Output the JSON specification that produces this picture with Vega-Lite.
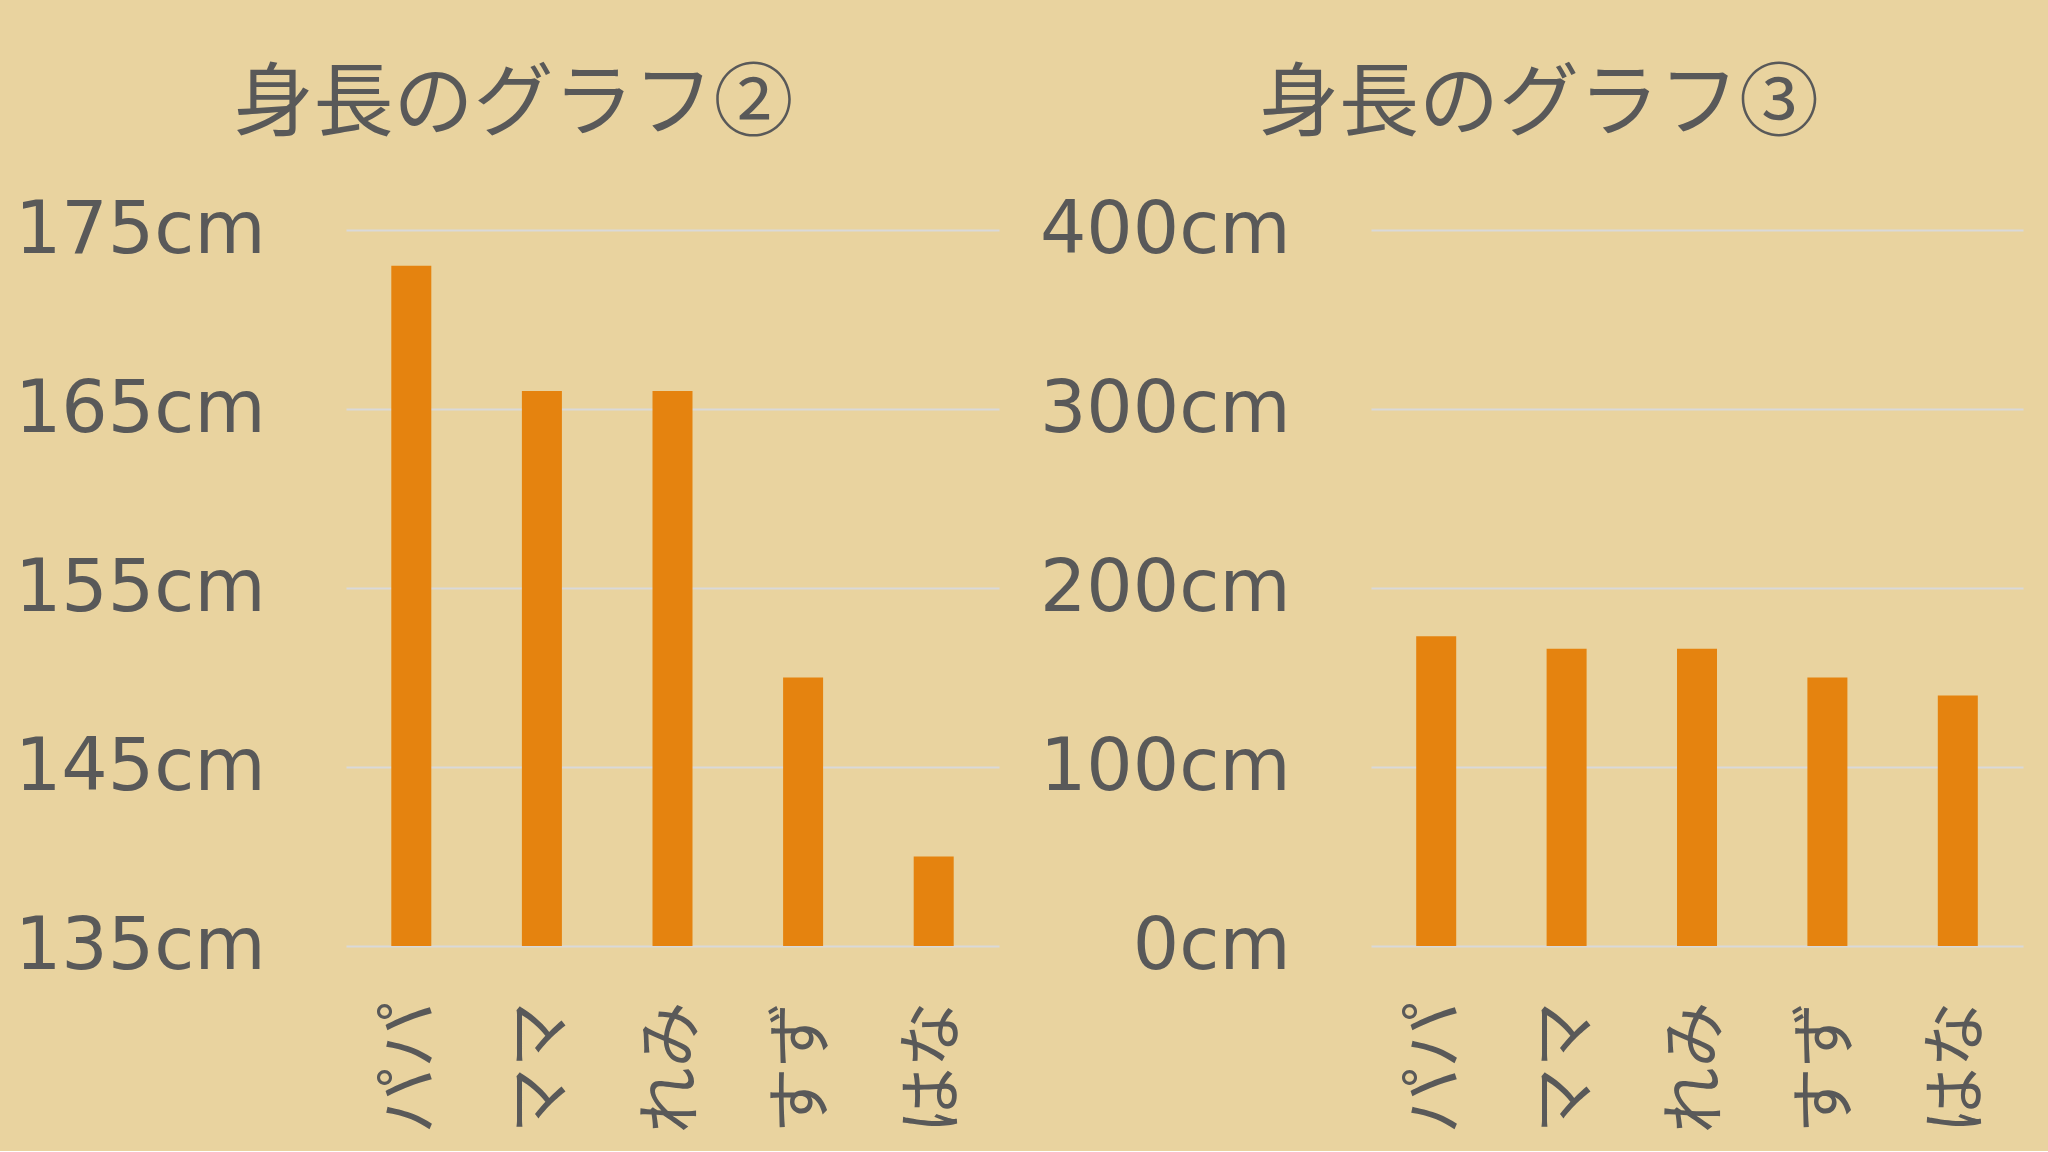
{
  "$schema": "https://vega.github.io/schema/vega-lite/v6.json",
  "background": "#E9D39F",
  "padding": {"left": 0, "top": 65, "right": 25, "bottom": 0},
  "data": {"values": [
    {"name": "パパ", "height": 173},
    {"name": "ママ", "height": 166},
    {"name": "れみ", "height": 166},
    {"name": "すず", "height": 150},
    {"name": "はな", "height": 140}
  ]},
  "spacing": 0,
  "hconcat": [
    {
      "width": 653, "height": 716,
      "title": {"text": "身長のグラフ②", "fontSize": 80, "font": "Noto Sans CJK JP", "color": "#595959", "fontWeight": "normal", "frame": "group", "anchor": "middle", "dx": -159, "offset": -32, "baseline": "bottom"},
      "mark": {"type": "bar", "width": 40, "color": "#E5830F", "clip": true},
      "encoding": {
        "x": {"field": "name", "type": "nominal", "sort": null,
              "axis": {"title": null, "labelAngle": -90, "labelFont": "Noto Sans CJK JP", "labelFontSize": 66, "labelPadding": 55, "ticks": false, "tickSize": 0, "domain": false, "minExtent": 205, "maxExtent": 205}},
        "y": {"field": "height", "type": "quantitative",
              "scale": {"domain": [135, 175], "zero": false, "nice": false},
              "axis": {"title": null, "values": [135, 145, 155, 165, 175], "labelExpr": "datum.value + 'cm'", "labelFont": "DejaVu Sans", "labelFontSize": 73, "labelPadding": 81, "ticks": false, "tickSize": 0, "domain": false, "minExtent": 346, "maxExtent": 346}}
      }
    },
    {
      "width": 652, "height": 716,
      "title": {"text": "身長のグラフ③", "fontSize": 80, "font": "Noto Sans CJK JP", "color": "#595959", "fontWeight": "normal", "frame": "group", "anchor": "middle", "dx": -158, "offset": -32, "baseline": "bottom"},
      "mark": {"type": "bar", "width": 40, "color": "#E5830F", "clip": true},
      "encoding": {
        "x": {"field": "name", "type": "nominal", "sort": null,
              "axis": {"title": null, "labelAngle": -90, "labelFont": "Noto Sans CJK JP", "labelFontSize": 66, "labelPadding": 55, "ticks": false, "tickSize": 0, "domain": false, "minExtent": 205, "maxExtent": 205}},
        "y": {"field": "height", "type": "quantitative",
              "scale": {"domain": [0, 400], "nice": false},
              "axis": {"title": null, "values": [0, 100, 200, 300, 400], "labelExpr": "datum.value + 'cm'", "labelFont": "DejaVu Sans", "labelFontSize": 73, "labelPadding": 81, "ticks": false, "tickSize": 0, "domain": false, "minExtent": 372, "maxExtent": 372}}
      }
    }
  ],
  "config": {
    "view": {"stroke": null},
    "font": "Noto Sans CJK JP",
    "axis": {"labelColor": "#595959", "gridColor": "#D9D9D9", "gridWidth": 2, "labelOverlap": false, "labelFlush": false, "labelLimit": 0}
  }
}
